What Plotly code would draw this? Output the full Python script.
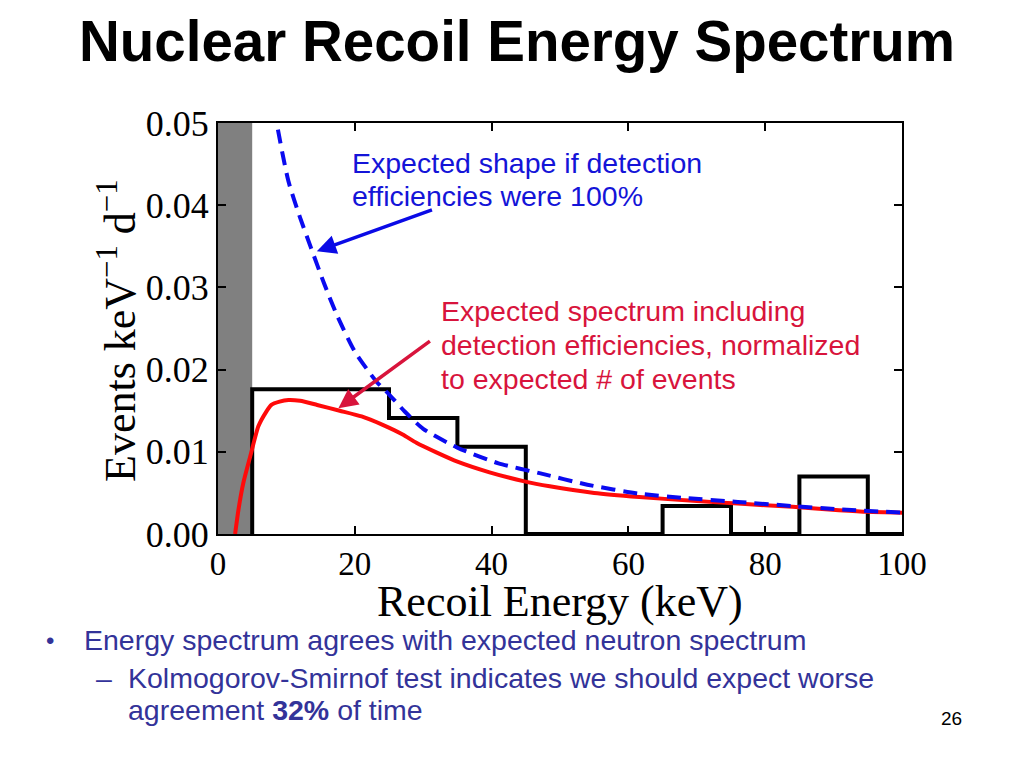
import plotly.graph_objects as go

# ---------------- data ----------------
threshold_band = [0, 5]          # grey region below threshold (keV)

hist_edges = [5, 15, 25, 35, 45, 55, 65, 75, 85, 95, 100]
hist_counts = [0.0176, 0.0176, 0.0141, 0.0106, 0.0, 0.0, 0.0034, 0.0, 0.0070, 0.0]

red_E = [2.5, 3.0, 3.7, 4.7, 5.9, 7.0, 7.8, 9.0, 10.3, 12.0, 14.5, 17.8, 21.0, 24.0,
         27.0, 29.0, 32.0, 35.0, 39.7, 44.8, 48.5, 55.0, 61.6, 70.0, 76.0, 84.0,
         90.8, 95.0, 100.0]
red_y = [0.0, 0.0030, 0.0062, 0.0094, 0.0131, 0.0148, 0.0157, 0.0161, 0.0163, 0.0162,
         0.0157, 0.0150, 0.0143, 0.0133, 0.0121, 0.0111, 0.0099, 0.0088, 0.0075,
         0.0064, 0.0058, 0.0050, 0.0045, 0.0040, 0.0037, 0.0033, 0.0029, 0.0027, 0.0026]

blue_E = [8.0, 8.6, 10.3, 12.0, 13.6, 15.5, 17.4, 20.0, 23.2, 25.0, 27.3, 30.0, 35.0,
          41.0, 47.0, 54.0, 61.6, 68.0, 76.0, 84.0, 90.8, 100.0]
blue_y = [0.0545, 0.0500, 0.0429, 0.0385, 0.0348, 0.0305, 0.0266, 0.0222, 0.0185,
          0.0170, 0.0149, 0.0128, 0.0105, 0.0086, 0.0074, 0.0060, 0.0049, 0.0044,
          0.0039, 0.0034, 0.0030, 0.0026]

x_ticks = [0, 20, 40, 60, 80, 100]
y_ticks = [0.00, 0.01, 0.02, 0.03, 0.04, 0.05]
y_tick_labels = ["0.00", "0.01", "0.02", "0.03", "0.04", "0.05"]

# ---------------- layout geometry (screen pixels) ----------------
W, H = 1024, 768
OFF = 8                      # page body offset of the figure
L, R, T, B = 218, 902, 123, 534


def px(p):
    return (p - L) / (R - L)


def py(p):
    return (B - p) / (B - T)


SERIF = "Liberation Serif, Times New Roman, serif"
SANS = "Liberation Sans, Arial, sans-serif"
BLUE_TXT = "#1414d8"
RED_TXT = "#d8143c"
SLIDE_TXT = "#333399"
TXT = 28.5

fig = go.Figure()

# histogram (step outline)
hx = [hist_edges[0]] + hist_edges[1:]
hy = [0.0] + hist_counts
fig.add_trace(go.Scatter(x=hx, y=hy, mode="lines", line=dict(shape="vh", color="black", width=4),
                         hoverinfo="skip", showlegend=False))

# expected spectrum with efficiencies
fig.add_trace(go.Scatter(x=red_E, y=red_y, mode="lines",
                         line=dict(color="#ff0a0a", width=4, shape="spline", smoothing=0.6),
                         showlegend=False))

# expected shape, 100% efficiency
fig.add_trace(go.Scatter(x=blue_E, y=blue_y, mode="lines",
                         line=dict(color="#0a0af0", width=4, dash="14px,8px", shape="spline", smoothing=0.6),
                         showlegend=False))

# grey threshold band
fig.add_shape(type="rect", xref="x", yref="paper", x0=threshold_band[0], x1=threshold_band[1],
              y0=0, y1=1, fillcolor="#808080", line=dict(width=0), layer="below")

ann = []
# title
ann.append(dict(text="<b>Nuclear Recoil Energy Spectrum</b>", x=px(517), y=py(41), xref="paper", yref="paper",
                xanchor="center", yanchor="middle", showarrow=False,
                font=dict(family=SANS, size=56.5, color="black")))
# axis titles
ann.append(dict(text="Recoil Energy (keV)", x=px(560), y=py(601), xref="paper", yref="paper",
                xanchor="center", yanchor="middle", showarrow=False,
                font=dict(family=SERIF, size=44, color="black")))
ann.append(dict(text="Events keV<sup>−1</sup> d<sup>−1</sup>", x=px(117), y=py(331), xref="paper", yref="paper",
                xanchor="center", yanchor="middle", textangle=-90, showarrow=False,
                font=dict(family=SERIF, size=44, color="black")))
# blue text
for txt, yy in [("Expected shape if detection", 163), ("efficiencies were 100%", 196)]:
    ann.append(dict(text=txt, x=px(350), y=py(yy), xref="paper", yref="paper", xanchor="left", yanchor="middle",
                    showarrow=False, font=dict(family=SANS, size=TXT, color=BLUE_TXT)))
# red text
for txt, yy in [("Expected spectrum including", 311), ("detection efficiencies, normalized", 345),
                ("to expected # of events", 379)]:
    ann.append(dict(text=txt, x=px(439), y=py(yy), xref="paper", yref="paper", xanchor="left", yanchor="middle",
                    showarrow=False, font=dict(family=SANS, size=TXT, color=RED_TXT)))
# arrows
ann.append(dict(text="", x=14.45, y=0.0344, ax=31.5, ay=0.0395, xref="x", yref="y", axref="x", ayref="y",
                showarrow=True, arrowhead=2, arrowsize=1.1, arrowwidth=3.5, arrowcolor="#0a0ae6"))
ann.append(dict(text="", x=17.6, y=0.0153, ax=31.2, ay=0.0236, xref="x", yref="y", axref="x", ayref="y",
                showarrow=True, arrowhead=2, arrowsize=1.1, arrowwidth=3.5, arrowcolor=RED_TXT))
# slide bullets
ann.append(dict(text="•", x=px(50), y=py(640), xref="paper", yref="paper", xanchor="center", yanchor="middle",
                showarrow=False, font=dict(family=SANS, size=24, color=SLIDE_TXT)))
ann.append(dict(text="Energy spectrum agrees with expected neutron spectrum", x=px(82), y=py(640),
                xref="paper", yref="paper", xanchor="left", yanchor="middle", showarrow=False,
                font=dict(family=SANS, size=TXT, color=SLIDE_TXT)))
ann.append(dict(text="–", x=px(104), y=py(678), xref="paper", yref="paper", xanchor="center", yanchor="middle",
                showarrow=False, font=dict(family=SANS, size=TXT, color=SLIDE_TXT)))
ann.append(dict(text="Kolmogorov-Smirnof test indicates we should expect worse", x=px(126), y=py(678),
                xref="paper", yref="paper", xanchor="left", yanchor="middle", showarrow=False,
                font=dict(family=SANS, size=TXT, color=SLIDE_TXT)))
ann.append(dict(text="agreement <b>32%</b> of time", x=px(126), y=py(710),
                xref="paper", yref="paper", xanchor="left", yanchor="middle", showarrow=False,
                font=dict(family=SANS, size=TXT, color=SLIDE_TXT)))
ann.append(dict(text="26", x=px(951), y=py(718), xref="paper", yref="paper", xanchor="center", yanchor="middle",
                showarrow=False, font=dict(family=SANS, size=19, color="black")))

axis_common = dict(showgrid=False, zeroline=False, showline=True, linecolor="black", linewidth=2, mirror="ticks",
                   ticks="inside", ticklen=8, tickwidth=1.5, tickcolor="black")

fig.update_layout(
    width=W, height=H,
    margin=dict(l=L - OFF, r=W - (R - OFF), t=T - OFF, b=H - (B - OFF), autoexpand=False),
    paper_bgcolor="white", plot_bgcolor="white",
    xaxis=dict(range=[0, 100], tickvals=x_ticks, ticktext=[str(v) for v in x_ticks],
               tickfont=dict(family=SERIF, size=33, color="black"), ticklabelstandoff=-1, **axis_common),
    yaxis=dict(range=[0, 0.05], tickvals=y_ticks, ticktext=y_tick_labels,
               tickfont=dict(family=SERIF, size=36, color="black"), ticklabelstandoff=0, **axis_common),
    annotations=ann,
    showlegend=False,
)

fig.write_html("out.html")
